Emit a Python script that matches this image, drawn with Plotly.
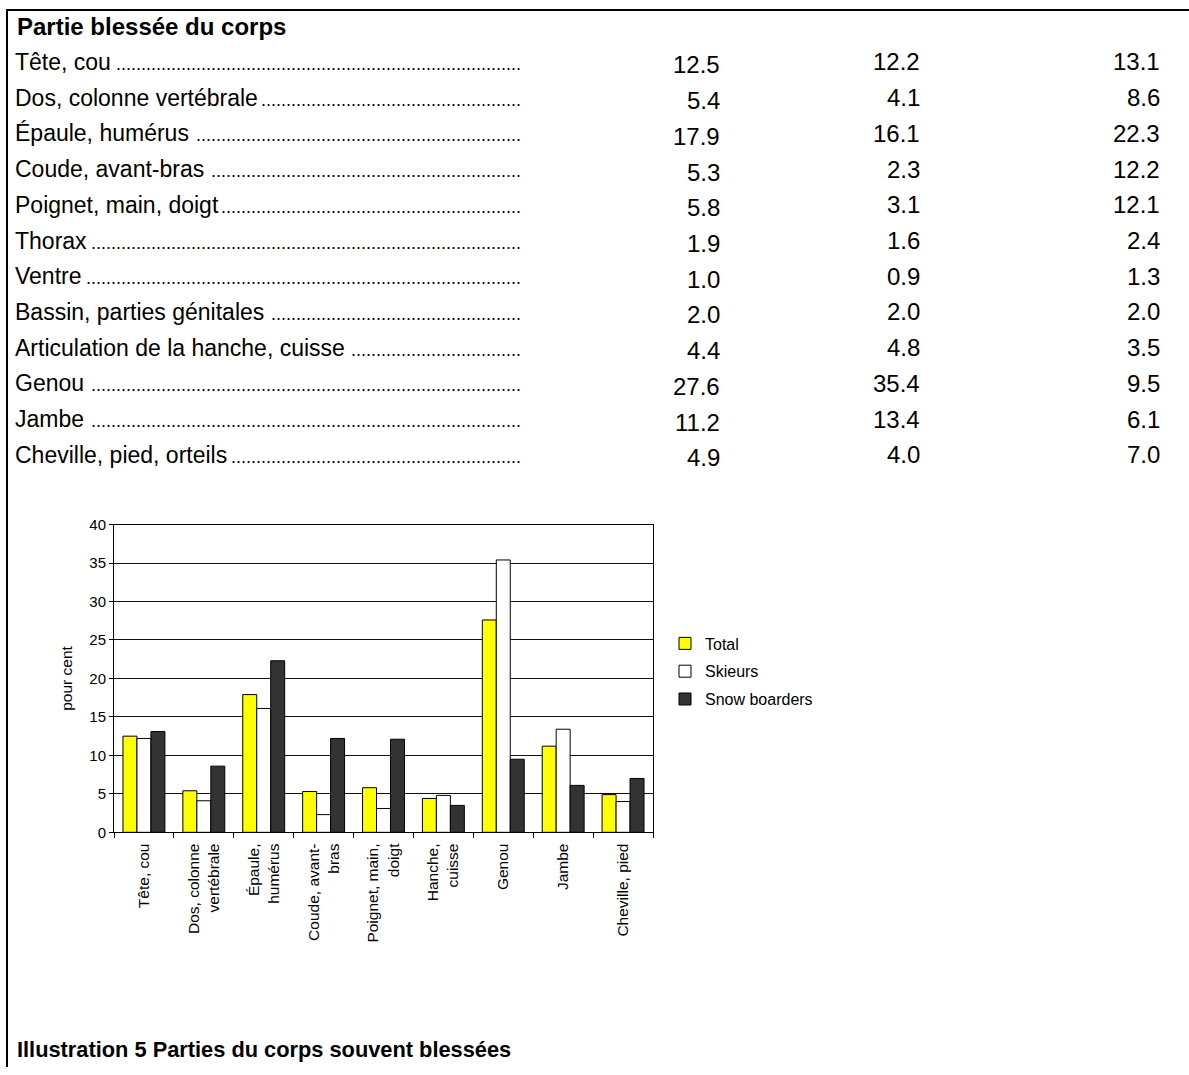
import math
import plotly.graph_objects as go

W, H = 1189, 1075
FONT = "Arial, Liberation Sans, sans-serif"

header = "Partie blessée du corps"
caption = "Illustration 5 Parties du corps souvent blessées"

row_labels = [
    "Tête, cou", "Dos, colonne vertébrale", "Épaule, humérus", "Coude, avant-bras",
    "Poignet, main, doigt", "Thorax", "Ventre", "Bassin, parties génitales",
    "Articulation de la hanche, cuisse", "Genou", "Jambe", "Cheville, pied, orteils",
]
total = [12.5, 5.4, 17.9, 5.3, 5.8, 1.9, 1.0, 2.0, 4.4, 27.6, 11.2, 4.9]
skieurs = [12.2, 4.1, 16.1, 2.3, 3.1, 1.6, 0.9, 2.0, 4.8, 35.4, 13.4, 4.0]
snow = [13.1, 8.6, 22.3, 12.2, 12.1, 2.4, 1.3, 2.0, 3.5, 9.5, 6.1, 7.0]

chart_rows = [0, 1, 2, 3, 4, 8, 9, 10, 11]
chart_labels = [
    "Tête, cou", "Dos, colonne<br>vertébrale", "Épaule,<br>humérus",
    "Coude, avant-<br>bras", "Poignet, main,<br>doigt", "Hanche,<br>cuisse",
    "Genou", "Jambe", "Cheville, pied",
]
series_names = ["Total", "Skieurs", "Snow boarders"]
series_colors = ["#FFFF00", "#FFFFFF", "#333333"]
y_ticks = [0, 5, 10, 15, 20, 25, 30, 35, 40]

# Arial / Liberation Sans advance widths (1/1000 em), used to size the dot leaders
ARIAL_W = {
    " ": 278, ",": 278, "-": 333, ".": 278,
    "a": 556, "b": 556, "c": 500, "d": 556, "e": 556, "f": 278, "g": 556, "h": 556,
    "i": 222, "j": 222, "k": 500, "l": 222, "m": 833, "n": 556, "o": 556, "p": 556,
    "q": 556, "r": 333, "s": 500, "t": 278, "u": 556, "v": 500, "w": 722, "x": 500,
    "y": 500, "z": 500, "é": 556, "ê": 556, "è": 556,
    "A": 667, "B": 667, "C": 722, "D": 722, "É": 667, "G": 778, "J": 500, "P": 667,
    "T": 611, "V": 667,
}


def text_width(s, size):
    return sum(ARIAL_W.get(c, 556) for c in s) * size / 1000.0


def px(x):
    return x / W


def py(y):
    # target pixel row -> paper fraction (compensates the capture's vertical offset)
    d = (y - 9) / 0.985
    return 1 - d / H


fig = go.Figure()
for name, vals, col in zip(series_names, [total, skieurs, snow], series_colors):
    fig.add_trace(go.Bar(
        x=chart_labels,
        y=[vals[i] for i in chart_rows],
        name=name,
        legendgroup=name,
        marker=dict(color=col, line=dict(color="#000000", width=1)),
    ))

annotations = []
annotations.append(dict(text="<b>%s</b>" % header, x=px(15), y=py(27), xref="paper", yref="paper",
                        xanchor="left", yanchor="middle", showarrow=False,
                        font=dict(family=FONT, size=24, color="#000")))
annotations.append(dict(text="<b>%s</b>" % caption, x=px(15), y=py(1050), xref="paper", yref="paper",
                        xanchor="left", yanchor="middle", showarrow=False,
                        font=dict(family=FONT, size=21.8, color="#000")))

ROW_SIZE, DOT_SIZE = 23, 18
row_font = dict(family=FONT, size=ROW_SIZE, color="#000")
num_font = dict(family=FONT, size=24, color="#000")
dot_font = dict(family=FONT, size=DOT_SIZE, color="#000")
LABEL_X, TAB_X = 14, 522
dot_w = 0.278 * DOT_SIZE
for i, lab in enumerate(row_labels):
    yc = 62 + i * 35.75
    annotations.append(dict(text=lab, x=px(LABEL_X), y=py(yc), xref="paper", yref="paper",
                            xanchor="left", yanchor="middle", showarrow=False, font=row_font,
                            borderpad=0))
    # leader dots filling the gap up to the tab stop
    start = LABEL_X + text_width(lab, ROW_SIZE) + 4
    n_dots = int(math.floor((TAB_X - start) / dot_w))
    annotations.append(dict(text="." * n_dots, x=px(TAB_X), y=py(yc), xref="paper", yref="paper",
                            xanchor="right", yanchor="middle", showarrow=False, font=dot_font,
                            borderpad=0, yshift=-2))
    for vals, xr, dy in [(total, 722, 3), (skieurs, 922, 0), (snow, 1162, 0)]:
        annotations.append(dict(text="%.1f" % vals[i], x=px(xr), y=py(yc + dy), xref="paper", yref="paper",
                                xanchor="right", yanchor="middle", showarrow=False, font=num_font))

shapes = [
    dict(type="line", xref="paper", yref="paper", x0=px(7), x1=1, y0=1 - 1 / H, y1=1 - 1 / H,
         line=dict(color="#000", width=2)),
    dict(type="line", xref="paper", yref="paper", x0=px(7), x1=px(7), y0=1, y1=0,
         line=dict(color="#000", width=2)),
]

fig.update_layout(
    width=W, height=H,
    margin=dict(l=0, r=0, t=0, b=0),
    paper_bgcolor="#FFFFFF", plot_bgcolor="#FFFFFF",
    font=dict(family=FONT, color="#000"),
    barmode="group", bargap=0.3, bargroupgap=0,
    annotations=annotations, shapes=shapes,
    legend=dict(x=px(665), y=py(627), xanchor="left", yanchor="top",
                font=dict(family=FONT, size=16, color="#000"),
                tracegroupgap=4, bgcolor="rgba(0,0,0,0)"),
    xaxis=dict(domain=[px(114), px(653)], showline=True, linecolor="#000", linewidth=1,
               mirror=True, ticks="outside", ticklen=5, tickcolor="#000",
               tickson="boundaries", tickangle=-90, ticklabelstandoff=4,
               tickfont=dict(family=FONT, size=15.5, color="#000")),
    yaxis=dict(domain=[py(833), py(525)], range=[0, 40], tickvals=y_ticks,
               showline=True, linecolor="#000", linewidth=1, mirror=True,
               ticks="outside", ticklen=4, tickcolor="#000",
               showgrid=True, gridcolor="#111", gridwidth=1, zeroline=False,
               tickfont=dict(family=FONT, size=15, color="#000"),
               title=dict(text="pour cent", font=dict(family=FONT, size=15.5, color="#000"), standoff=12)),
)

fig.write_html("out.html", config={"displayModeBar": False},
               post_script="document.body.style.margin='0px';document.body.style.overflow='hidden';")
